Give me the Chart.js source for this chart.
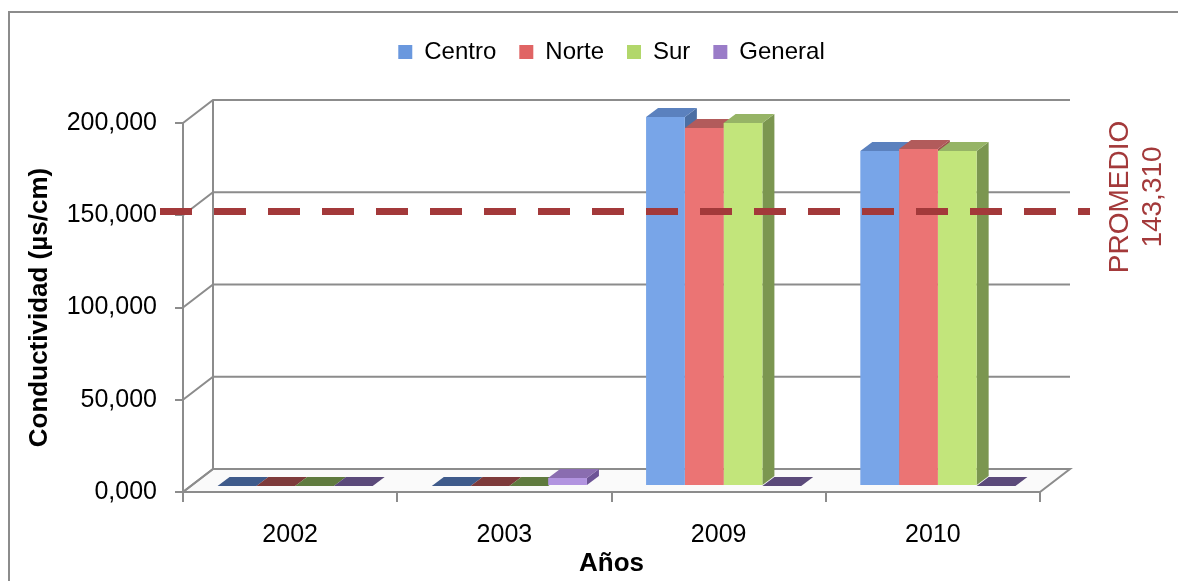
<!DOCTYPE html>
<html>
<head>
<meta charset="utf-8">
<script src="https://cdn.jsdelivr.net/npm/chart.js@4.4.1/dist/chart.umd.min.js"></script>
<style>
  html, body { margin: 0; padding: 0; background: #fff; }
  #wrap { width: 1178px; height: 581px; position: relative; }
</style>
</head>
<body>
<div id="wrap"><canvas id="chart"></canvas></div>
<script>
const years = ["2002", "2003", "2009", "2010"];
const centro = [0, 0, 200000, 181600];
const norte = [0, 0, 194000, 182700];
const sur = [0, 0, 196700, 181600];
const general = [0, 4300, 0, 0];
const yTicks = [0, 50000, 100000, 150000, 200000];
const promedio = 143310;       // value written in the label
const promedioNivel = 152000;  // where the dashed line sits on the axis

// front, top, side, flat (zero bar) colours per series
const faces = [
    { front: "#78A5E8", top: "#5B81BE", side: "#4C6FA3", flat: "#3F5B8B", legend: "#6A98DE" },
    { front: "#EB7474", top: "#B25B5B", side: "#A04D4D", flat: "#7D3A3A", legend: "#E06464" },
    { front: "#C2E57B", top: "#96B466", side: "#7B9650", flat: "#5F7A3E", legend: "#B2D76B" },
    { front: "#B294E0", top: "#8A6DB0", side: "#6D5496", flat: "#5B4A7A", legend: "#9A7CC8" }
];

const GRAY = "#8C8C8C";
const RED = "#A3393A";
const WALL_DX = 30, WALL_DY = -23;   // depth of the back wall
const BAR_DX = 5, BAR_DY = -6;       // bars sit slightly back from the front axis
const TOP_DX = 12, TOP_DY = -9;      // bar depth

const fmt = v => (v === 0 ? "0" : String(v / 1000)) + ",000";

function poly(ctx, pts, fill) {
    ctx.beginPath();
    ctx.moveTo(pts[0][0], pts[0][1]);
    for (let i = 1; i < pts.length; i++) ctx.lineTo(pts[i][0], pts[i][1]);
    ctx.closePath();
    ctx.fillStyle = fill;
    ctx.fill();
}

const threeD = {
    id: "threeD",
    beforeDatasetsDraw(chart) {
        const { ctx, chartArea: a, scales: { y } } = chart;
        ctx.save();
        ctx.strokeStyle = GRAY;
        ctx.lineWidth = 2;

        // floor
        const y0 = y.getPixelForValue(0);
        ctx.beginPath();
        ctx.moveTo(a.left, y0);
        ctx.lineTo(a.right, y0);
        ctx.lineTo(a.right + WALL_DX, y0 + WALL_DY);
        ctx.lineTo(a.left + WALL_DX, y0 + WALL_DY);
        ctx.closePath();
        ctx.fillStyle = "#FAFAFA";
        ctx.fill();
        ctx.stroke();

        // back wall: left edge, gridlines and the slanted links to the front axis
        const yTop = y.getPixelForValue(yTicks[yTicks.length - 1]);
        ctx.beginPath();
        ctx.moveTo(a.left + WALL_DX, yTop + WALL_DY);
        ctx.lineTo(a.left + WALL_DX, y0 + WALL_DY);
        ctx.stroke();
        yTicks.forEach(v => {
            const py = y.getPixelForValue(v);
            ctx.beginPath();
            ctx.moveTo(a.left, py);
            ctx.lineTo(a.left + WALL_DX, py + WALL_DY);
            if (v !== 0) ctx.lineTo(a.right + WALL_DX, py + WALL_DY);
            ctx.stroke();
        });

        // top and side faces of the bars
        const n = years.length;
        for (let c = 0; c < n; c++) {
            chart.data.datasets.forEach((ds, d) => {
                const meta = chart.getDatasetMeta(d);
                if (meta.type !== "bar") return;
                const el = meta.data[c];
                const p = el.getProps(["x", "y", "base", "width"], true);
                const l = p.x - p.width / 2 + BAR_DX;
                const r = p.x + p.width / 2 + BAR_DX;
                const t = p.y + BAR_DY;
                const b = p.base + BAR_DY;
                const f = faces[d];
                if (ds.data[c] > 0) {
                    poly(ctx, [[r, t], [r + TOP_DX, t + TOP_DY], [r + TOP_DX, b + TOP_DY], [r, b]], f.side);
                    poly(ctx, [[l, t], [r, t], [r + TOP_DX, t + TOP_DY], [l + TOP_DX, t + TOP_DY]], f.top);
                } else {
                    poly(ctx, [[l, b], [r, b], [r + TOP_DX, b + TOP_DY], [l + TOP_DX, b + TOP_DY]], f.flat);
                }
            });
        }
        ctx.restore();
    },
    beforeDatasetDraw(chart, args) {
        chart.ctx.save();
        chart.ctx.translate(BAR_DX, BAR_DY);
    },
    afterDatasetDraw(chart) {
        chart.ctx.restore();
    },
    afterDatasetsDraw(chart) {
        const { ctx, chartArea: a, scales: { y } } = chart;
        const py = y.getPixelForValue(promedioNivel);
        ctx.save();
        ctx.strokeStyle = RED;
        ctx.lineWidth = 7;
        ctx.setLineDash([32, 22]);
        ctx.beginPath();
        ctx.moveTo(a.left - 23, py);
        ctx.lineTo(a.right + 50, py);
        ctx.stroke();
        ctx.restore();
    },
    afterDraw(chart) {
        const { ctx, width, height } = chart;
        ctx.save();
        // outer frame (top and left only are visible)
        ctx.strokeStyle = GRAY;
        ctx.lineWidth = 2;
        ctx.beginPath();
        ctx.moveTo(9, height);
        ctx.lineTo(9, 12);
        ctx.lineTo(width, 12);
        ctx.stroke();

        // PROMEDIO label
        ctx.translate(1136, 197);
        ctx.rotate(-Math.PI / 2);
        ctx.fillStyle = RED;
        ctx.font = "28px 'Liberation Sans', Arial, sans-serif";
        ctx.textAlign = "center";
        ctx.textBaseline = "middle";
        ctx.fillText("PROMEDIO", 0, -16);
        ctx.fillText(promedio.toLocaleString("en-US"), 0, 17);
        ctx.restore();
    }
};

const font = "'Liberation Sans', Arial, sans-serif";

const datasets = [
    { label: "Centro", data: centro },
    { label: "Norte", data: norte },
    { label: "Sur", data: sur },
    { label: "General", data: general }
].map((ds, i) => ({
    ...ds,
    backgroundColor: faces[i].front,
    borderWidth: 0,
    clip: false
}));

new Chart(document.getElementById("chart"), {
    type: "bar",
    data: { labels: years, datasets },
    plugins: [threeD],
    options: {
        responsive: true,
        maintainAspectRatio: false,
        animation: false,
        devicePixelRatio: 1,
        layout: { padding: { top: 17, right: 138, bottom: 0, left: 0 } },
        datasets: { bar: { categoryPercentage: 0.724, barPercentage: 1 } },
        plugins: {
            tooltip: { enabled: false },
            legend: {
                position: "top",
                fullSize: false,
                labels: {
                    color: "#000",
                    font: { family: font, size: 24 },
                    boxWidth: 14,
                    boxHeight: 14,
                    padding: 23,
                    generateLabels: chart => chart.data.datasets.map((ds, i) => ({
                        text: ds.label,
                        fillStyle: faces[i].legend,
                        strokeStyle: faces[i].legend,
                        lineWidth: 0,
                        hidden: false,
                        datasetIndex: i
                    }))
                }
            },
            // blank spacer between legend and plot
            title: {
                display: true,
                text: " ",
                weight: 500,
                font: { size: 10 },
                padding: { top: 0, bottom: 37 }
            }
        },
        scales: {
            x: {
                grid: { display: true, drawOnChartArea: false, color: GRAY, lineWidth: 2, tickLength: 10 },
                border: { display: true, color: GRAY, width: 2 },
                ticks: { color: "#000", font: { family: font, size: 25 }, padding: 18 },
                title: {
                    display: true,
                    text: "Años",
                    color: "#000",
                    font: { family: font, size: 26, weight: "bold" },
                    padding: { top: 0, bottom: 2 }
                },
                afterFit: s => { s.height = 89; }
            },
            y: {
                min: 0,
                max: 200000,
                afterBuildTicks: s => { s.ticks = yTicks.map(v => ({ value: v })); },
                grid: { display: true, drawOnChartArea: false, color: GRAY, lineWidth: 2, tickLength: 8 },
                border: { display: true, color: GRAY, width: 2 },
                ticks: { color: "#000", font: { family: font, size: 25 }, padding: 18, callback: v => fmt(v) },
                title: {
                    display: true,
                    text: "Conductividad (µs/cm)",
                    color: "#000",
                    font: { family: font, size: 26, weight: "bold" },
                    padding: { top: 24, bottom: 0 }
                },
                afterFit: s => { s.width = 183; }
            }
        }
    }
});
</script>
</body>
</html>
